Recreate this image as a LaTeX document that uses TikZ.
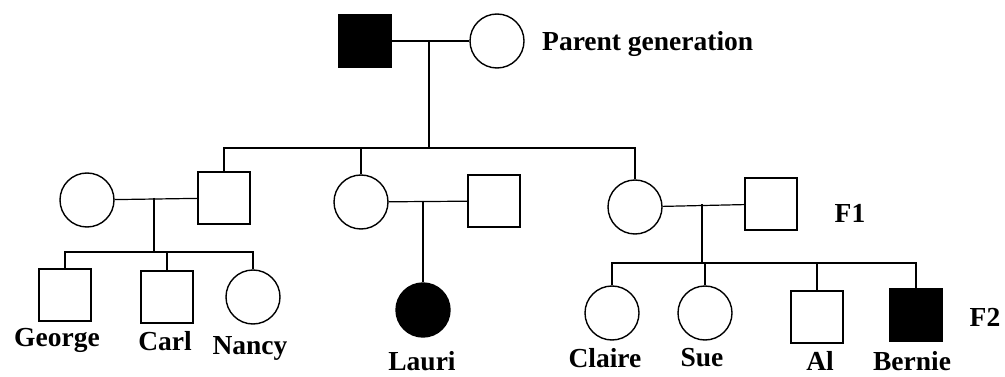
\documentclass[tikz,border=0pt]{standalone}
\usepackage{fontspec}
\setmainfont{Liberation Serif}
\begin{document}
\begin{tikzpicture}[x=1pt,y=-1pt,
  male/.style={draw,line width=1.4pt,rectangle,minimum size=52pt,inner sep=0pt},
  female/.style={draw,line width=1.4pt,circle,minimum size=54pt,inner sep=0pt},
  aff/.style={fill=black},
  link/.style={line width=1.2pt},
  lbl/.style={font=\fontsize{27.5}{30}\selectfont\bfseries,inner sep=0pt}]
\useasboundingbox (0,0) rectangle (1005,377);
% parents
\node[male,aff] (P1) at (365,41) {};
\node[female] (P2) at (497,41) {};
\node[lbl,anchor=west] (lp) at (542,44) {Parent generation};
\coordinate (pm) at (429,41);
\coordinate (s1) at (429,148);
% F1
\node[female] (W1) at (87,200) {};
\node[male] (H1) at (224,198) {};
\node[female] (W2) at (361,202) {};
\node[male] (H2) at (494,201) {};
\node[female] (W3) at (635,207) {};
\node[male] (H3) at (771,204) {};
\node[lbl] (lf1) at (850,213) {F1};
% F2
\node[male] (G) at (65,295) {};
\node[male] (C) at (167,297) {};
\node[female] (N) at (253,297) {};
\node[female,aff] (L) at (423,310) {};
\node[female] (Cl) at (612,313) {};
\node[female] (S) at (705,313) {};
\node[male] (A) at (817,317) {};
\node[male,aff] (B) at (916,315) {};
\node[lbl] (lf2) at (985,317) {F2};
% names
\node[lbl] (nG) at (57,340) {George};
\node[lbl] (nC) at (165,341) {Carl};
\node[lbl] (nN) at (250,348) {Nancy};
\node[lbl] (nL) at (422,361) {Lauri};
\node[lbl] (nCl) at (605,358) {Claire};
\node[lbl] (nS) at (702,358) {Sue};
\node[lbl] (nA) at (820,361) {Al};
\node[lbl] (nB) at (912,361) {Bernie};
% parent connections
\draw[link] (P1) -- (P2);
\draw[link] (pm) -- (s1);
\draw[link] (H1.north) -- (H1.north |- s1) -- (W3.north |- s1) -- (W3.north);
\draw[link] (W2.north |- s1) -- (W2.north);
% family 1
\coordinate (m1) at (154,198);
\coordinate (k1) at (154,252);
\draw[link] (W1) -- (H1);
\draw[link] (m1) -- (k1);
\draw[link] (G.north) -- (G.north |- k1) -- (N.north |- k1) -- (N.north);
\draw[link] (C.north |- k1) -- (C.north);
% family 2
\coordinate (m2) at (423,201);
\draw[link] (W2) -- (H2);
\draw[link] (m2) -- (L.north);
% family 3
\coordinate (m3) at (702,204);
\coordinate (k3) at (702,263);
\draw[link] (W3) -- (H3);
\draw[link] (m3) -- (k3);
\draw[link] (Cl.north) -- (Cl.north |- k3) -- (B.north |- k3) -- (B.north);
\draw[link] (S.north |- k3) -- (S.north);
\draw[link] (A.north |- k3) -- (A.north);
\end{tikzpicture}
\end{document}
